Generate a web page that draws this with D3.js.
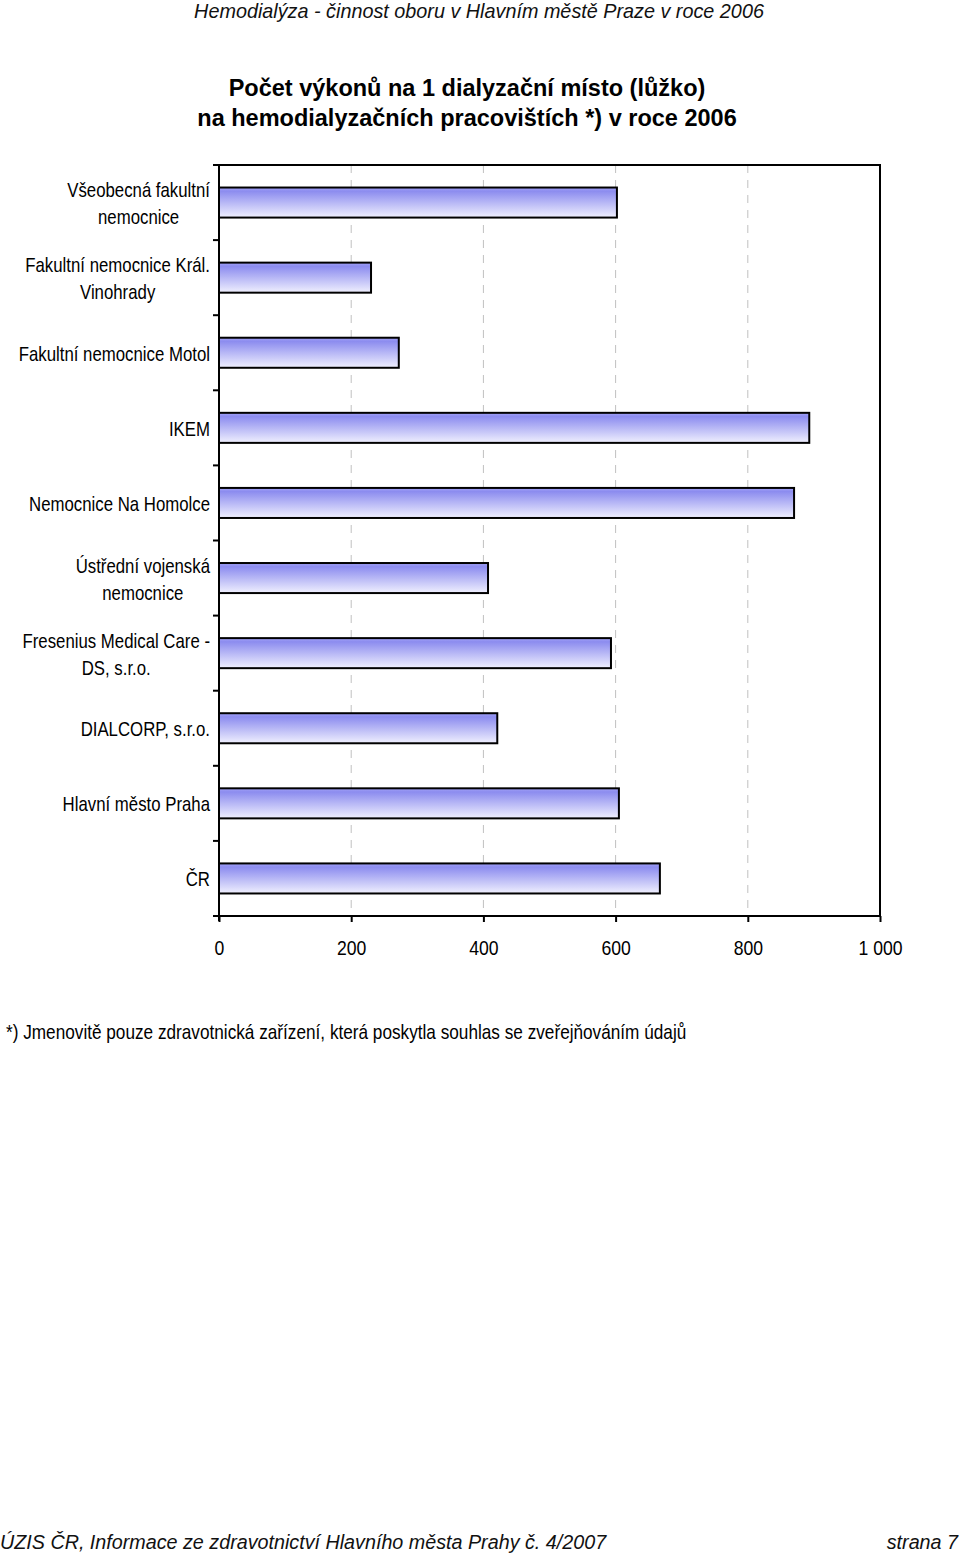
<!DOCTYPE html>
<html><head><meta charset="utf-8">
<script src="https://cdn.jsdelivr.net/npm/d3@7"></script>
<style>
body{margin:0;background:#fff;}
text{font-family:"Liberation Sans",Arial,sans-serif;}
</style></head>
<body>
<svg id="c" width="960" height="1554"></svg>
<script>
const categories = [
  ["Všeobecná fakultní","nemocnice"],
  ["Fakultní nemocnice Král.","Vinohrady"],
  ["Fakultní nemocnice Motol"],
  ["IKEM"],
  ["Nemocnice Na Homolce"],
  ["Ústřední vojenská","nemocnice"],
  ["Fresenius Medical Care -","DS, s.r.o."],
  ["DIALCORP, s.r.o."],
  ["Hlavní město Praha"],
  ["ČR"]
];
const values = [602, 230, 272, 893, 870, 407, 593, 421, 605, 667];
const xTicks = [0, 200, 400, 600, 800, 1000];
const tickLabels = ["0","200","400","600","800","1 000"];

const svg = d3.select("#c");
const L = 219, R = 880, T = 165, B = 916;
const NARROW = 0.84;
const x = d3.scaleLinear().domain([0,1000]).range([L,R]);
const y = d3.scaleBand().domain(d3.range(categories.length)).range([T,B]).paddingInner(0.6).paddingOuter(0.3);

const defs = svg.append("defs");
const g = defs.append("linearGradient").attr("id","bg").attr("x1",0).attr("y1",0).attr("x2",0).attr("y2",1);
g.append("stop").attr("offset","0%").attr("stop-color","#a4a4f6");
g.append("stop").attr("offset","12%").attr("stop-color","#8c8cef");
g.append("stop").attr("offset","100%").attr("stop-color","#f0f0fe");

function narrowText(parent, x0, y0, sx, anchor){
  return parent.append("g").attr("transform",`translate(${x0},${y0}) scale(${sx},1)`)
    .append("text").attr("x",0).attr("y",0).attr("text-anchor",anchor||"start");
}

// header / footer
narrowText(svg, 479, 18, 0.99, "middle")
  .style("font-style","italic").style("font-size","20px").attr("fill","#111")
  .text("Hemodialýza - činnost oboru v Hlavním městě Praze v roce 2006");
narrowText(svg, 0, 1549, 0.94, "start")
  .style("font-style","italic").style("font-size","21px").attr("fill","#111")
  .text("ÚZIS ČR, Informace ze zdravotnictví Hlavního města Prahy č. 4/2007");
narrowText(svg, 958, 1549, 0.94, "end")
  .style("font-style","italic").style("font-size","21px").attr("fill","#111")
  .text("strana 7");

// title
const tt = svg.append("text").attr("text-anchor","middle").attr("fill","#000")
  .style("font-weight","bold").style("font-size","23.5px");
tt.append("tspan").attr("x",467).attr("y",96).text("Počet výkonů na 1 dialyzační místo (lůžko)");
tt.append("tspan").attr("x",467).attr("y",126).text("na hemodialyzačních pracovištích *) v roce 2006");

// gridlines
svg.append("g").selectAll("line").data(xTicks.slice(1,-1)).join("line")
  .attr("x1",d=>x(d)).attr("x2",d=>x(d)).attr("y1",T).attr("y2",B)
  .attr("stroke","#c0c0c0").attr("stroke-width",1).attr("stroke-dasharray","8,7");

// bars
svg.append("g").selectAll("rect").data(values).join("rect")
  .attr("x",x(0)).attr("y",(d,i)=>y(i)).attr("width",d=>x(d)-x(0)).attr("height",y.bandwidth())
  .attr("fill","url(#bg)").attr("stroke","#000").attr("stroke-width",2);

// frame
svg.append("line").attr("x1",213).attr("x2",R+1).attr("y1",T).attr("y2",T).attr("stroke","#000").attr("stroke-width",2);
svg.append("line").attr("x1",R).attr("x2",R).attr("y1",T).attr("y2",B).attr("stroke","#000").attr("stroke-width",2);

// y axis
const step = (B-T)/categories.length;
const yAxisG = svg.append("g");
yAxisG.append("line").attr("x1",L).attr("x2",L).attr("y1",T).attr("y2",B+5).attr("stroke","#000").attr("stroke-width",2);
yAxisG.selectAll("line.t").data(d3.range(categories.length+1)).join("line").attr("class","t")
  .attr("x1",213).attr("x2",L).attr("y1",i=>T+i*step).attr("y2",i=>T+i*step).attr("stroke","#000").attr("stroke-width",2);
categories.forEach((lines,i)=>{
  const cy = y(i)+y.bandwidth()/2;
  const lh = 27;
  const t = narrowText(yAxisG, 210, cy, NARROW, "end").style("font-size","20px").attr("fill","#000");
  const spans = lines.map((s,j)=> t.append("tspan").attr("x",0)
      .attr("y", 8 + (j - (lines.length-1)/2)*lh).text(s));
  if(spans.length===2){
    const w0 = spans[0].node().getComputedTextLength();
    spans[1].attr("text-anchor","middle").attr("x",-w0/2);
  }
});

// x axis
const xa = svg.append("g").attr("transform",`translate(0,${B})`)
  .call(d3.axisBottom(x).tickValues(xTicks).tickFormat((d,i)=>tickLabels[i]).tickSize(6).tickSizeOuter(0));
xa.select(".domain").attr("stroke","#000").attr("stroke-width",2).attr("d",`M213,0H${R+1}`);
xa.selectAll(".tick line").attr("stroke","#000").attr("stroke-width",2);
xa.selectAll(".tick text").style("font-size","20px").style("font-family","'Liberation Sans',sans-serif")
  .attr("fill","#000").attr("dy",0).attr("y",39).attr("x",0)
  .attr("transform","scale(0.88,1)");

// footnote
narrowText(svg, 6, 1039, 0.86, "start").style("font-size","20px").attr("fill","#000")
  .text("*) Jmenovitě pouze zdravotnická zařízení, která poskytla souhlas se zveřejňováním údajů");
</script>
</body></html>
